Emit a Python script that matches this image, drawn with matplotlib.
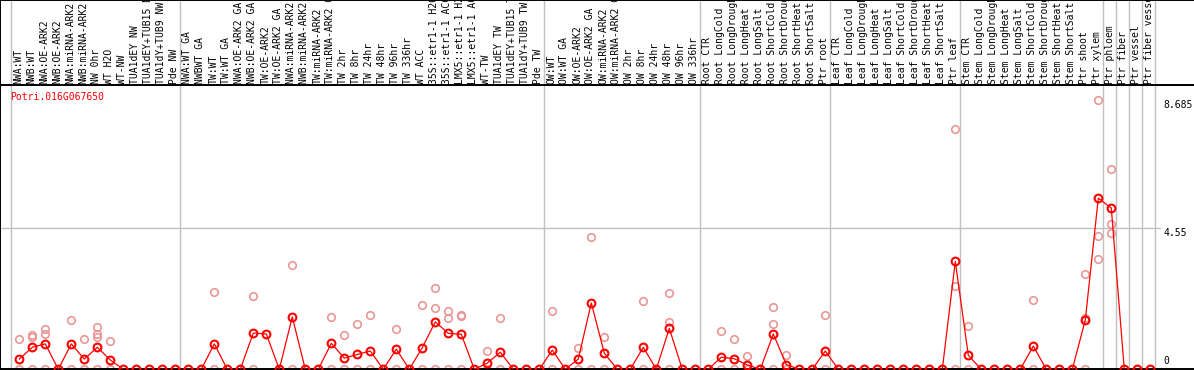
import matplotlib
matplotlib.use("Agg")
import matplotlib.pyplot as plt

labels = [
    "NWA:WT", "NWB:WT", "NWA:OE-ARK2", "NWB:OE-ARK2", "NWA:miRNA-ARK2", "NWB:miRNA-ARK2",
    "NW 0hr", "WT H2O", "WT-NW", "TUA1dEY NW", "TUA1dEY+TUB15 NW", "TUA1dY+TUB9 NW", "Pde NW",
    "NWA:WT GA", "NWBWT GA", "TW:WT", "TW:WT GA", "NWA:OE-ARK2 GA", "NWB:OE-ARK2 GA",
    "TW:OE-ARK2", "TW:OE-ARK2 GA", "NWA:miRNA-ARK2 GA", "NWB:miRNA-ARK2 GA", "TW:miRNA-ARK2",
    "TW:miRNA-ARK2 GA", "TW 2hr", "TW 8hr", "TW 24hr", "TW 48hr", "TW 96hr", "TW 336hr",
    "WT ACC", "35S::etr1-1 H2O", "35S::etr1-1 ACC", "LMX5::etr1-1 H2O", "LMX5::etr1-1 ACC",
    "WT-TW", "TUA1dEY TW", "TUA1dEY+TUB15 TW", "TUA1dY+TUB9 TW", "Pde TW",
    "OW:WT", "OW:WT GA", "OW:OE-ARK2", "OW:OE-ARK2 GA", "OW:miRNA-ARK2", "OW:miRNA-ARK2 GA",
    "OW 2hr", "OW 8hr", "OW 24hr", "OW 48hr", "OW 96hr", "OW 336hr",
    "Root CTR", "Root LongCold", "Root LongDrought", "Root LongHeat", "Root LongSalt",
    "Root ShortCold", "Root ShortDrought", "Root ShortHeat", "Root ShortSalt", "Ptr root",
    "Leaf CTR", "Leaf LongCold", "Leaf LongDrought", "Leaf LongHeat", "Leaf LongSalt",
    "Leaf ShortCold", "Leaf ShortDrought", "Leaf ShortHeat", "Leaf ShortSalt", "Ptr leaf",
    "Stem CTR", "Stem LongCold", "Stem LongDrought", "Stem LongHeat", "Stem LongSalt",
    "Stem ShortCold", "Stem ShortDrought", "Stem ShortHeat", "Stem ShortSalt", "Ptr shoot",
    "Ptr xylem", "Ptr phloem", "Ptr fiber", "Ptr vessel", "Ptr fiber vessel",
]

# mean expression per sample
means = [
    0.33, 0.71, 0.82, 0, 0.82, 0.33, 0.71, 0.30, 0, 0, 0, 0, 0,
    0, 0, 0.82, 0, 0, 1.17, 1.14, 0, 1.69, 0, 0, 0.84, 0.36, 0.48, 0.59, 0, 0.65, 0,
    0.70, 1.53, 1.16, 1.13, 0, 0.20, 0.55, 0, 0, 0,
    0.62, 0, 0.33, 2.14, 0.52, 0, 0, 0.71, 0, 1.32, 0, 0,
    0, 0.39, 0.34, 0.14, 0, 1.14, 0.15, 0, 0, 0.59,
    0, 0, 0, 0, 0, 0, 0, 0, 0, 3.48,
    0.45, 0, 0, 0, 0, 0.75, 0, 0, 0, 1.59, 5.52,
    5.20, 0, 0, 0,
]

# single replicates (sample number, value)
rep_sample = [1, 1, 2, 2, 2, 3, 3, 3, 5, 5, 6, 6, 7, 7, 7, 7, 8, 8, 16, 16, 19, 19, 22, 22,
              25, 25, 26, 26, 27, 27, 28, 28, 30, 30, 32, 32, 33, 33, 33, 34, 34, 34,
              35, 35, 35, 37, 37, 38, 38, 42, 42, 44, 44, 45, 45, 46, 46, 49, 49,
              51, 51, 51, 55, 55, 56, 56, 57, 57, 59, 59, 59, 60, 60, 63, 63,
              73, 73, 73, 74, 74, 79, 79, 83, 83, 83, 84, 84, 84, 85, 85, 85]
rep_value = [0.98, 0, 1.11, 1.03, 0, 1.30, 1.15, 0, 1.58, 0, 0.98, 0, 1.35, 1.14, 1.05, 0,
             0.91, 0, 2.48, 0, 2.35, 0, 3.35, 0,
             1.68, 0, 1.10, 0, 1.45, 0, 1.74, 0, 1.30, 0, 2.06, 0, 2.62, 1.97, 0, 1.88, 1.65, 0,
             1.74, 1.71, 0, 0.58, 0, 1.65, 0, 1.88, 0, 0.69, 0, 4.26, 0, 1.04, 0, 2.20, 0,
             2.46, 1.53, 0, 1.24, 0, 0.98, 0, 0.43, 0, 2.00, 1.45, 0, 0.45, 0, 1.74, 0,
             7.74, 2.70, 0, 1.39, 0, 2.24, 0, 3.07, 1.67, 0, 8.685, 4.30, 3.56, 6.45, 4.69, 4.39]

# first sample of each group
group_starts = [0, 13, 41, 53, 63, 73, 84, 85, 86, 87, 88]

gene = "Potri.016G067650"
mono = "DejaVu Sans Mono"
grey = "#c0c0c0"

fig = plt.figure(figsize=(11.94, 3.70), dpi=100)
ax = fig.add_axes([0, 0.7 / 370, 1, 284.3 / 370])
ax_lab = fig.add_axes([0, 285 / 370, 1, 84.6 / 370])

x_lo, x_hi = -19.3 / 13, (1194 - 19.3) / 13
for a in (ax, ax_lab):
    a.set_xlim(x_lo, x_hi)
    a.set_xticks([])
    a.set_yticks([])
    a.spines["right"].set_visible(False)
    for s in ("left", "top", "bottom"):
        a.spines[s].set_color("black")
        a.spines[s].set_linewidth(1.4)
    for b in group_starts:
        a.axvline(b - 0.64, color=grey, lw=1.0, zorder=0)

ax.set_ylim(0, 9.17)
ax.axhline(4.55, xmax=1160 / 1194, color=grey, lw=1.0, zorder=0)

xs = list(range(len(labels)))
rep_x = [s - 1 for s in rep_sample]
ax.plot(rep_x, rep_value, "o", ms=5.4, mfc="none", mec="#eb9696", mew=1.2, clip_on=False, zorder=2)
ax.plot(xs, means, "-", color="red", lw=0.9, zorder=3)
ax.plot(xs, means, "o", ms=5.6, mfc="none", mec="red", mew=1.5, clip_on=False, zorder=4)

for i, lab in enumerate(labels):
    ax_lab.text(i - 0.08, 0.015, lab, rotation=90, ha="center", va="bottom",
                fontsize=7, family=mono, clip_on=True,
                transform=ax_lab.get_xaxis_transform())

ax.text(10 / 1194, 1 - 12 / 284.3, gene, color="red", fontsize=7, family=mono,
        ha="left", va="center", transform=ax.transAxes)

yt = ax.get_yaxis_transform()
ax.text(1163 / 1194, 8.685, "8.685", fontsize=7, family=mono, ha="left", va="top", transform=yt)
ax.text(1163 / 1194, 4.55, "4.55", fontsize=7, family=mono, ha="left", va="top", transform=yt)
ax.text(1163 / 1194, 0.1, "0", fontsize=7, family=mono, ha="left", va="bottom", transform=yt)

fig.savefig("out.png", dpi=100)
